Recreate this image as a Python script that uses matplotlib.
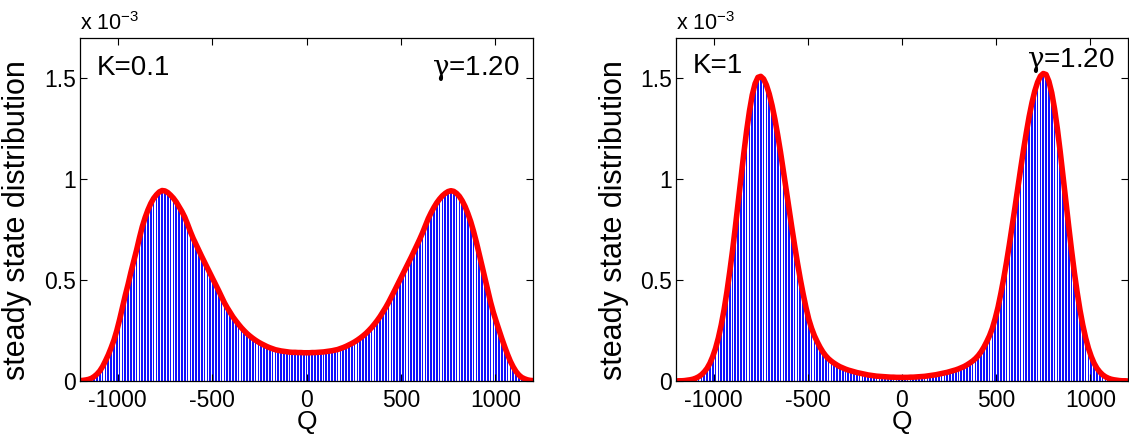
import numpy as np
import matplotlib.pyplot as plt

plt.rcParams['font.family'] = ['Liberation Sans', 'DejaVu Sans']
plt.rcParams['mathtext.fontset'] = 'custom'
plt.rcParams['mathtext.rm'] = 'Liberation Sans'
plt.rcParams['mathtext.sf'] = 'DejaVu Serif'
plt.rcParams['axes.unicode_minus'] = False

# bin centres of the histogram (Q = -1200 ... 1200, step 15)
q = np.arange(-1200, 1201, 15)

# steady state distribution, units of 1e-3, K = 0.1
p_k01 = [
    0.002, 0.003, 0.005, 0.008, 0.013, 0.022, 0.034, 0.050, 0.072, 0.100,
    0.130, 0.165, 0.203, 0.250, 0.305, 0.365, 0.425, 0.480, 0.540, 0.595,
    0.650, 0.710, 0.765, 0.810, 0.848, 0.880, 0.905, 0.923, 0.937, 0.944,
    0.942, 0.934, 0.921, 0.906, 0.887, 0.864, 0.840, 0.812, 0.777, 0.740,
    0.706, 0.676, 0.646, 0.617, 0.588, 0.560, 0.532, 0.504, 0.476, 0.447,
    0.418, 0.388, 0.363, 0.340, 0.318, 0.299, 0.281, 0.264, 0.249, 0.235,
    0.223, 0.212, 0.202, 0.193, 0.185, 0.178, 0.171, 0.165, 0.160, 0.155,
    0.152, 0.149, 0.147, 0.145, 0.143, 0.142, 0.142, 0.141, 0.141, 0.140,
    0.140,
    0.140, 0.141, 0.141, 0.142, 0.143, 0.144, 0.146, 0.148, 0.150, 0.153,
    0.156, 0.161, 0.166, 0.172, 0.179, 0.186, 0.194, 0.203, 0.213, 0.224,
    0.236, 0.250, 0.265, 0.282, 0.300, 0.320, 0.342, 0.365, 0.390, 0.417,
    0.445, 0.473, 0.501, 0.529, 0.557, 0.585, 0.614, 0.643, 0.673, 0.703,
    0.735, 0.770, 0.805, 0.834, 0.860, 0.883, 0.902, 0.918, 0.930, 0.939,
    0.943, 0.940, 0.930, 0.915, 0.893, 0.865, 0.830, 0.790, 0.742, 0.688,
    0.630, 0.570, 0.510, 0.450, 0.392, 0.340, 0.295, 0.252, 0.210, 0.170,
    0.132, 0.098, 0.070, 0.047, 0.030, 0.018, 0.011, 0.006, 0.003, 0.002,
]

# steady state distribution, units of 1e-3, K = 1
p_k1 = [
    0.000, 0.001, 0.001, 0.002, 0.004, 0.006, 0.009, 0.014, 0.021, 0.031,
    0.045, 0.063, 0.088, 0.121, 0.162, 0.214, 0.277, 0.352, 0.440, 0.539,
    0.645, 0.762, 0.885, 1.008, 1.128, 1.240, 1.338, 1.418, 1.474, 1.505,
    1.510, 1.497, 1.467, 1.423, 1.366, 1.298, 1.219, 1.134, 1.043, 0.949,
    0.854, 0.761, 0.671, 0.585, 0.505, 0.432, 0.365, 0.306, 0.261, 0.224,
    0.194, 0.167, 0.144, 0.125, 0.110, 0.098, 0.088, 0.079, 0.071, 0.065,
    0.059, 0.054, 0.050, 0.046, 0.042, 0.039, 0.036, 0.033, 0.030, 0.028,
    0.026, 0.024, 0.023, 0.022, 0.021, 0.020, 0.019, 0.019, 0.018, 0.018,
    0.018,
    0.018, 0.018, 0.019, 0.019, 0.020, 0.021, 0.022, 0.023, 0.025, 0.027,
    0.029, 0.031, 0.034, 0.037, 0.040, 0.043, 0.047, 0.051, 0.055, 0.060,
    0.066, 0.072, 0.080, 0.089, 0.099, 0.111, 0.126, 0.145, 0.168, 0.195,
    0.225, 0.262, 0.310, 0.366, 0.434, 0.508, 0.589, 0.676, 0.767, 0.861,
    0.957, 1.052, 1.144, 1.230, 1.310, 1.379, 1.437, 1.481, 1.511, 1.524,
    1.519, 1.485, 1.429, 1.349, 1.250, 1.137, 1.016, 0.892, 0.768, 0.650,
    0.539, 0.440, 0.352, 0.277, 0.214, 0.162, 0.121, 0.088, 0.063, 0.045,
    0.031, 0.021, 0.014, 0.009, 0.006, 0.004, 0.002, 0.001, 0.001, 0.000,
]

panels = [
    ('K=0.1', p_k01, [80, 453], 0.893, 0.893),
    ('K=1', p_k1, [676, 452], 0.897, 0.915),
]
gamma_label = r'$\mathsf{\gamma}$=1.20'
x_ticks = [-1000, -500, 0, 500, 1000]
y_ticks = [0, 0.5, 1, 1.5]
y_tick_labels = ['0', '0.5', '1', '1.5']

W, H = 1129, 441
fig = plt.figure(figsize=(W / 100, H / 100), dpi=100)

for name, p, (left, width), k_y, g_y in panels:
    ax = fig.add_axes([left / W, 60 / H, width / W, 343 / H])
    ax.bar(q, p, width=9, color='#1010ff', linewidth=0)
    ax.plot(q, p, color='red', linewidth=4, solid_capstyle='round')

    ax.set_xlim(-1200, 1200)
    ax.set_ylim(0, 1.7)
    ax.set_xticks(x_ticks)
    ax.set_yticks(y_ticks)
    ax.set_yticklabels(y_tick_labels)
    ax.tick_params(direction='in', top=True, right=True, length=5,
                   labelsize=16.5, width=0.8)
    ax.tick_params(axis='x', pad=6)
    ax.tick_params(axis='y', pad=3)
    for s in ax.spines.values():
        s.set_linewidth(0.9)

    ax.set_xlabel('Q', fontsize=19)
    ax.xaxis.set_label_coords(0.5, -0.085)
    ax.set_ylabel('steady state distribution', fontsize=22)
    ax.yaxis.set_label_coords(-0.105, 0.47)

    ax.text(0.0, 1.01, r'x 10$^{\mathregular{-3}}$', transform=ax.transAxes,
            fontsize=15.5, ha='left', va='bottom')
    ax.text(0.038, k_y, name, transform=ax.transAxes, fontsize=20,
            ha='left', va='baseline')
    ax.text(0.971, g_y, gamma_label, transform=ax.transAxes, fontsize=20,
            ha='right', va='baseline')

plt.savefig('out.png', dpi=100)
